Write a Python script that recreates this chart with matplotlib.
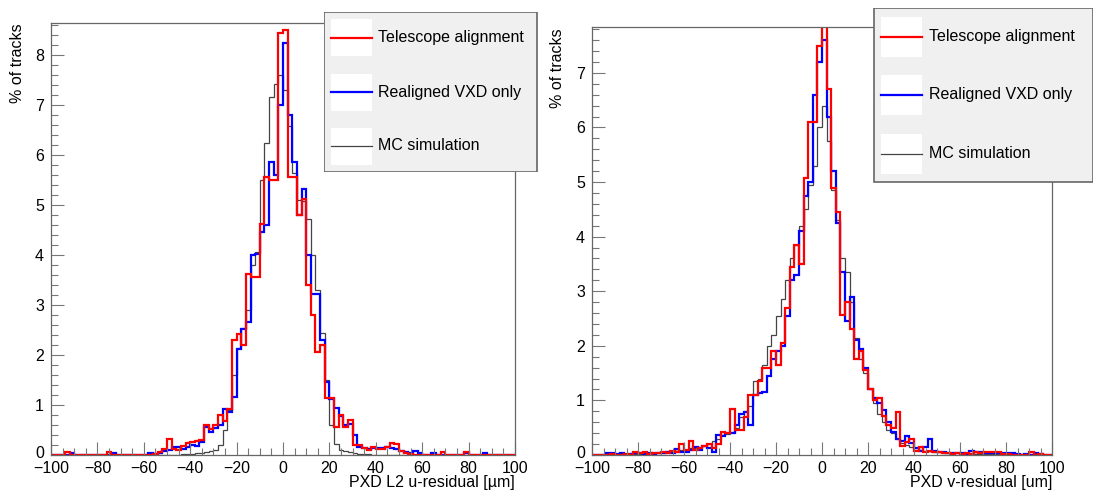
import numpy as np
import matplotlib.pyplot as plt
from matplotlib.patches import Rectangle
from matplotlib.ticker import MultipleLocator, FixedLocator
from matplotlib.transforms import ScaledTranslation

W, H = 1099, 495

# 2 um bins from -100 to 100
bin_edges = np.arange(-100, 102, 2)

# left panel: PXD L2 u-residual, % of tracks per bin
u_telescope = [
    0, 0, 0, 0.05, 0, 0, 0, 0, 0, 0,
    0, 0, 0.05, 0, 0, 0, 0, 0, 0, 0,
    0, 0, 0.02, 0.05, 0.12, 0.32, 0.12, 0.10, 0.17, 0.24,
    0.25, 0.27, 0.30, 0.60, 0.52, 0.60, 0.79, 0.67, 0.92, 2.29,
    2.42, 2.20, 3.62, 3.56, 3.56, 4.62, 5.56, 5.49, 5.49, 8.43,
    8.50, 5.56, 5.56, 4.80, 5.11, 3.39, 2.79, 2.06, 2.19, 1.14,
    1.14, 0.56, 0.79, 0.56, 0.69, 0.19, 0.19, 0.14, 0.10, 0.15,
    0.12, 0.12, 0.15, 0.24, 0.22, 0.07, 0.03, 0.02, 0, 0,
    0, 0, 0, 0, 0.05, 0, 0, 0, 0, 0.05,
    0, 0, 0, 0, 0, 0, 0, 0, 0, 0,
]
u_realigned = [
    0, 0, 0, 0, 0.03, 0, 0, 0, 0, 0,
    0, 0, 0, 0.03, 0, 0, 0, 0, 0, 0,
    0, 0.03, 0.02, 0.03, 0.08, 0.10, 0.16, 0.15, 0.12, 0.16,
    0.20, 0.18, 0.26, 0.55, 0.45, 0.53, 0.60, 0.92, 0.85, 1.16,
    2.12, 2.52, 2.66, 4.00, 4.02, 4.46, 4.59, 5.86, 5.60, 7.00,
    8.24, 6.79, 5.85, 4.79, 5.32, 4.00, 3.22, 3.22, 2.29, 1.45,
    1.11, 0.94, 0.77, 0.60, 0.62, 0.39, 0.15, 0.13, 0.12, 0.13,
    0.13, 0.13, 0.15, 0.14, 0.12, 0.08, 0.05, 0.04, 0.07, 0.03,
    0, 0, 0.03, 0, 0, 0, 0, 0, 0, 0.03,
    0, 0, 0, 0.03, 0, 0, 0, 0, 0, 0,
]
u_mc = [
    0, 0, 0, 0, 0, 0, 0, 0, 0, 0,
    0, 0, 0, 0, 0, 0, 0, 0, 0, 0,
    0, 0, 0, 0, 0, 0, 0, 0, 0.01, 0.02,
    0.02, 0.03, 0.04, 0.05, 0.07, 0.10, 0.20, 0.49, 0.89, 1.59,
    2.13, 2.53, 2.89, 3.79, 4.05, 5.50, 6.24, 7.16, 7.41, 7.59,
    7.29, 6.57, 5.63, 5.10, 5.08, 4.72, 4.00, 3.30, 2.43, 1.50,
    0.60, 0.22, 0.10, 0.07, 0.05, 0.03, 0.02, 0.02, 0.01, 0,
    0, 0, 0, 0, 0, 0, 0, 0, 0, 0,
    0, 0, 0, 0, 0, 0, 0, 0, 0, 0,
    0, 0, 0, 0, 0, 0, 0, 0, 0, 0,
]

# right panel: PXD v-residual
v_telescope = [
    0, 0, 0, 0, 0.02, 0, 0, 0.02, 0, 0.05,
    0.03, 0.05, 0.02, 0.03, 0.04, 0.05, 0.04, 0.08, 0.06, 0.20,
    0.10, 0.25, 0.10, 0.12, 0.16, 0.20, 0.12, 0.20, 0.42, 0.40,
    0.85, 0.45, 0.45, 0.70, 1.10, 1.10, 1.35, 1.60, 1.60, 1.90,
    1.65, 2.05, 2.70, 3.45, 3.85, 3.50, 5.07, 6.10, 6.10, 7.50,
    8.30, 6.70, 4.90, 4.45, 2.56, 2.80, 2.30, 1.75, 1.90, 1.55,
    1.20, 1.00, 1.05, 0.72, 0.55, 0.50, 0.78, 0.17, 0.23, 0.30,
    0.08, 0.14, 0.05, 0.08, 0.05, 0.06, 0.03, 0.03, 0.02, 0.04,
    0.02, 0.04, 0.02, 0.05, 0.03, 0.05, 0.05, 0.05, 0.05, 0.02,
    0.02, 0, 0, 0, 0, 0.05, 0, 0.02, 0, 0,
]
v_realigned = [
    0, 0, 0, 0.03, 0.03, 0.02, 0.03, 0, 0.02, 0.03,
    0.03, 0.02, 0.03, 0.02, 0.03, 0.04, 0.05, 0.04, 0.11, 0.05,
    0.06, 0.10, 0.15, 0.10, 0.17, 0.12, 0.05, 0.37, 0.35, 0.40,
    0.40, 0.55, 0.75, 0.78, 0.55, 1.10, 1.13, 1.15, 1.45, 1.75,
    1.90, 2.00, 2.55, 3.20, 3.30, 4.10, 4.75, 5.00, 6.60, 7.20,
    7.60, 6.20, 5.20, 4.25, 3.35, 2.45, 2.90, 2.10, 1.95, 1.60,
    1.20, 1.05, 0.95, 0.82, 0.60, 0.42, 0.30, 0.25, 0.35, 0.22,
    0.12, 0.08, 0.15, 0.30, 0.08, 0.06, 0.05, 0.03, 0.03, 0.04,
    0.03, 0.02, 0.07, 0.05, 0.05, 0.03, 0.03, 0.04, 0.04, 0.03,
    0.04, 0.03, 0.02, 0, 0.02, 0, 0.03, 0.02, 0, 0,
]
v_mc = [
    0, 0, 0, 0.02, 0.02, 0.02, 0.01, 0.02, 0.02, 0.02,
    0.02, 0.03, 0.03, 0.03, 0.04, 0.04, 0.05, 0.06, 0.07, 0.09,
    0.10, 0.12, 0.12, 0.14, 0.16, 0.20, 0.25, 0.30, 0.36, 0.38,
    0.42, 0.50, 0.70, 0.80, 0.90, 1.35, 1.40, 1.65, 2.00, 2.20,
    2.55, 2.85, 3.20, 3.60, 3.85, 4.20, 4.50, 4.95, 5.30, 6.00,
    6.40, 5.75, 4.85, 4.30, 3.60, 3.35, 2.80, 2.15, 1.75, 1.50,
    1.20, 0.95, 0.75, 0.60, 0.45, 0.40, 0.30, 0.22, 0.18, 0.15,
    0.12, 0.10, 0.08, 0.07, 0.06, 0.05, 0.04, 0.04, 0.03, 0.03,
    0.03, 0.02, 0.02, 0.02, 0.02, 0.02, 0.01, 0.01, 0.01, 0.01,
    0.01, 0.01, 0, 0, 0, 0, 0, 0, 0, 0,
]

legend_labels = ["Telescope alignment", "Realigned VXD only", "MC simulation"]
colors = ["#ff0000", "#0000ff", "#444444"]
widths = [1.6, 1.6, 0.9]

plt.rcParams["font.family"] = ["Liberation Sans", "DejaVu Sans"]
plt.rcParams["font.size"] = 11


def px_axes(fig, x0, y0, x1, y1):
    return fig.add_axes([x0 / W, 1 - y1 / H, (x1 - x0) / W, (y1 - y0) / H])


def draw_panel(fig, ax, telescope, realigned, mc, ymax, ytop):
    # MC first, then realigned, telescope on top (as in the original)
    ax.stairs(mc, bin_edges, color=colors[2], lw=widths[2], baseline=0)
    ax.stairs(realigned, bin_edges, color=colors[1], lw=widths[1], baseline=0)
    ax.stairs(telescope, bin_edges, color=colors[0], lw=widths[0], baseline=0)
    ax.set_xlim(-100, 100)
    ax.set_ylim(0, ymax)
    ax.xaxis.set_major_locator(MultipleLocator(20))
    ax.xaxis.set_minor_locator(MultipleLocator(5))
    ax.yaxis.set_major_locator(FixedLocator(range(0, ytop + 1)))
    ax.yaxis.set_minor_locator(MultipleLocator(0.2))
    ax.tick_params(which="both", direction="in", top=False, right=False,
                   color="#777777", width=0.8, labelsize=11.5)
    ax.tick_params(which="major", length=9.5)
    ax.tick_params(which="minor", length=5)
    ax.tick_params(axis="x", pad=4.5)
    ax.tick_params(axis="y", pad=5)
    for s in ax.spines.values():
        s.set_color("#666666")
        s.set_linewidth(0.9)
    # lift the "0" a little so it sits above the "-100"
    zero = ax.yaxis.get_major_ticks()[0].label1
    zero.set_transform(zero.get_transform() + ScaledTranslation(0, 3 / 100, fig.dpi_scale_trans))


def draw_legend(fig, x0, y0, x1, y1, rows, box_x0, box_x1, box_h, text_x):
    lax = px_axes(fig, x0, y0, x1, y1)
    lax.set_xlim(x0, x1)
    lax.set_ylim(y1, y0)
    lax.axis("off")
    lax.add_patch(Rectangle((x0 + 0.5, y0 + 0.5), x1 - x0 - 1, y1 - y0 - 1,
                            facecolor="#f0f0f0", edgecolor="#666666", lw=1.2))
    for yc, label, c, lw in zip(rows, legend_labels, colors, widths):
        lax.add_patch(Rectangle((box_x0, yc - box_h / 2), box_x1 - box_x0, box_h,
                                facecolor="white", edgecolor="none"))
        lax.plot([box_x0, box_x1], [yc, yc], color=c, lw=lw)
        lax.text(text_x, yc, label, ha="left", va="center", fontsize=11.5)


fig = plt.figure(figsize=(W / 100, H / 100), dpi=100)

ax1 = px_axes(fig, 51, 22.7, 515, 454.5)
draw_panel(fig, ax1, u_telescope, u_realigned, u_mc, 8.64, 8)
fig.text(515 / W, 1 - 483 / H, "PXD L2 u-residual [µm]", ha="right", va="center", fontsize=11.5)
fig.text(18 / W, 1 - 23 / H, "% of tracks", rotation=90, ha="center", va="top", fontsize=11.5)

ax2 = px_axes(fig, 592, 27, 1052, 455)
draw_panel(fig, ax2, v_telescope, v_realigned, v_mc, 7.84, 7)
fig.text(1052 / W, 1 - 483 / H, "PXD v-residual [um]", ha="right", va="center", fontsize=11.5)
fig.text(557 / W, 1 - 28 / H, "% of tracks", rotation=90, ha="center", va="top", fontsize=11.5)

draw_legend(fig, 324, 12, 538, 172, [38, 92, 146], 331, 372, 37, 378)
draw_legend(fig, 873, 8, 1093, 183, [37, 95, 154], 881, 922, 40, 929)

fig.savefig("out.png", dpi=100)
